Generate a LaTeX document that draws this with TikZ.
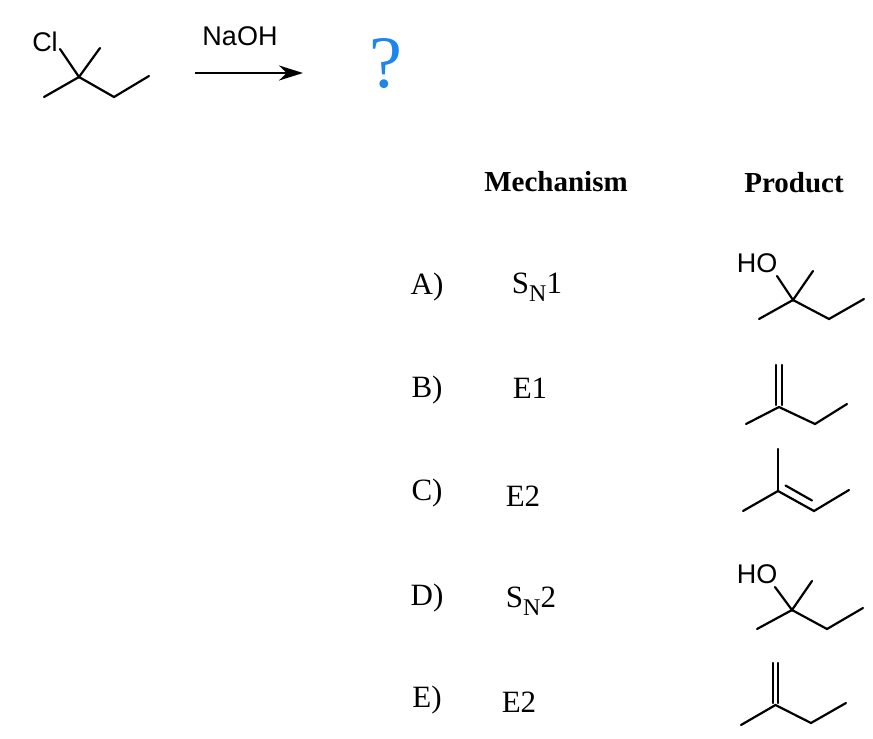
\documentclass[tikz,border=0pt]{standalone}
\usepackage{fontspec}
\setmainfont{Liberation Serif}
\newfontfamily\arialfont{Liberation Sans}
\usetikzlibrary{arrows.meta}
\definecolor{qblue}{RGB}{28,134,238}
\tikzset{
  lbl/.style={font=\fontsize{15.5}{18}\selectfont},
  head/.style={font=\bfseries\fontsize{14.5}{17}\selectfont},
  atom/.style={font=\arialfont\fontsize{13.5}{16}\selectfont,inner sep=0pt},
  bond/.style={line width=1.1pt,line cap=round},
}
\newcommand{\subN}{\raisebox{-0.55ex}{\fontsize{12}{13}\selectfont N}}
\begin{document}
\begin{tikzpicture}[x=0.5pt,y=-0.5pt]
        \useasboundingbox (0,0) rectangle (873,739) ;
        % starting material
        \node[atom] (cl) at (45,42) {Cl} ;
        \draw[bond] (60,49) -- (79,77) -- (100,48) ;
        \draw[bond] (44,97) -- (79,77) -- (114,97) -- (149,76) ;
        % reaction arrow
        \node[atom] (naoh) at (240,36) {NaOH} ;
        \coordinate (arrs) at (195,73) ;
        \coordinate (arre) at (303,73) ;
        \draw[line width=1.1pt,-{Stealth[length=12pt,width=7.5pt]}] (arrs) -- (arre) ;
        \node[text=qblue,font=\fontsize{37}{40}\selectfont] (quest) at (386,64) {?} ;
        % headers
        \node[head] (mech) at (556,182) {Mechanism} ;
        \node[head] (prod) at (794,183) {Product} ;
        % answers
        \node[lbl] (la) at (427,287) {A)} ;
        \node[lbl] (lb) at (427,390) {B)} ;
        \node[lbl] (lc) at (427,493) {C)} ;
        \node[lbl] (ld) at (427,598) {D)} ;
        \node[lbl] (le) at (427,700) {E)} ;
        \node[lbl] (ma) at (537,287) {S\subN1} ;
        \node[lbl] (mb) at (530,388) {E1} ;
        \node[lbl] (mc) at (523,496) {E2} ;
        \node[lbl] (md) at (531,601) {S\subN2} ;
        \node[lbl] (me) at (519,702) {E2} ;
        % product A
        \node[atom] (hoa) at (757,263) {HO} ;
        \draw[bond] (777,276) -- (793,300) -- (813,271) ;
        \draw[bond] (759,319) -- (793,300) -- (829,319) -- (864,299) ;
        % product B
        \draw[bond] (776.3,365) -- (776.3,405) ;
        \draw[bond] (781.7,365) -- (781.7,405) ;
        \draw[bond] (746,424) -- (779,407) -- (815,424) -- (847,404) ;
        % product C
        \draw[bond] (778,449) -- (778,491) ;
        \draw[bond] (743,511) -- (778,491) -- (814,511) -- (849,490) ;
        \draw[bond] (785.5,485.5) -- (812,500.5) ;
        % product D
        \node[atom] (hod) at (757,574) {HO} ;
        \draw[bond] (775,587) -- (792,610) -- (812,581) ;
        \draw[bond] (757,629) -- (792,610) -- (827,629) -- (863,608) ;
        % product E
        \draw[bond] (772.8,663) -- (772.8,703) ;
        \draw[bond] (778.2,663) -- (778.2,703) ;
        \draw[bond] (741,725) -- (775.5,705) -- (811,723) -- (846,703) ;
\end{tikzpicture}
\end{document}
